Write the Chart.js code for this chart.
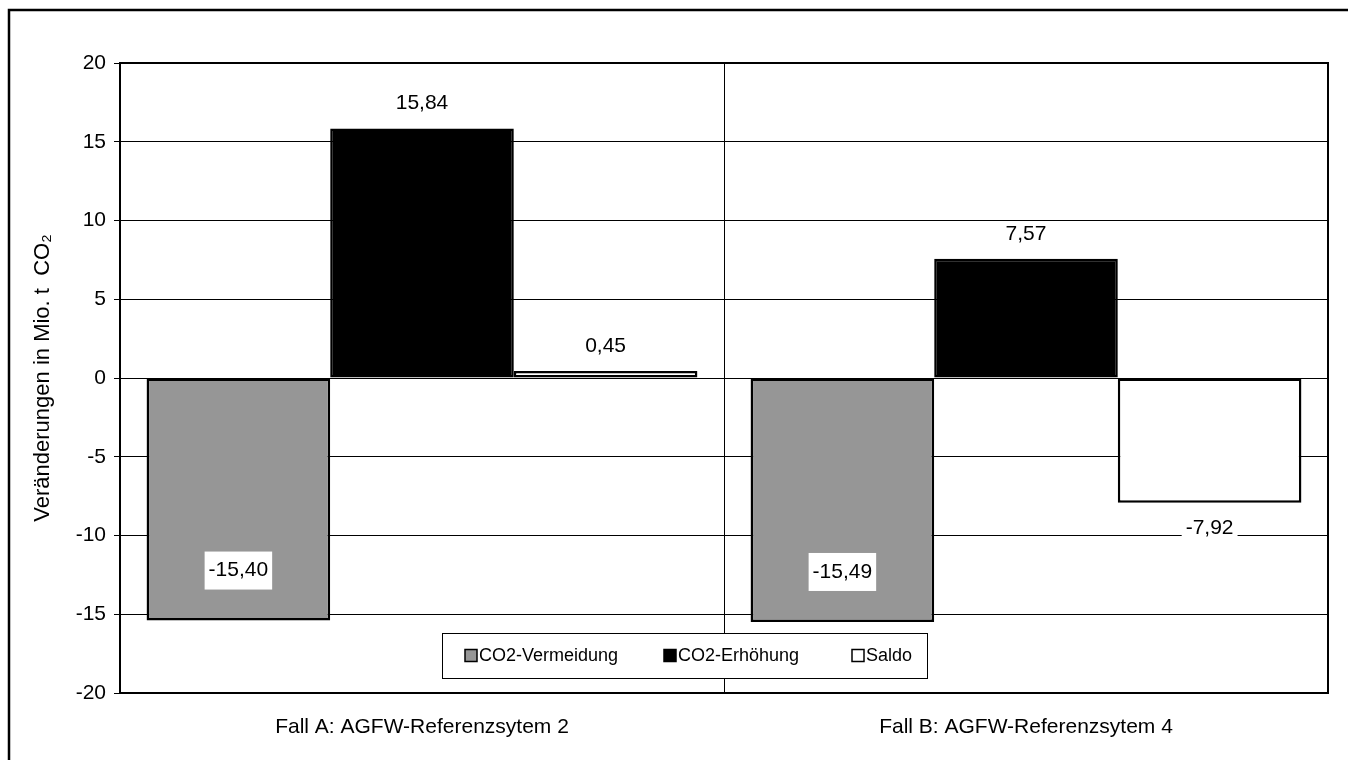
<!DOCTYPE html>
<html>
<head>
<meta charset="utf-8">
<script src="https://cdn.jsdelivr.net/npm/chart.js@4.4.1/dist/chart.umd.min.js"></script>
<style>
  html, body { margin: 0; padding: 0; background: #fff; }
  #wrap { width: 1348px; height: 760px; position: relative; }
</style>
</head>
<body>
<div id="wrap"><canvas id="co2Chart"></canvas></div>
<script>
// data
const categories = ['Fall A: AGFW-Referenzsytem 2', 'Fall B: AGFW-Referenzsytem 4'];
const seriesNames = ['CO2-Vermeidung', 'CO2-Erhöhung', 'Saldo'];
const vermeidung = [-15.40, -15.49];
const erhoehung = [15.84, 7.57];
const saldo = [0.45, -7.92];
const yTicks = [-20, -15, -10, -5, 0, 5, 10, 15, 20];
const yTitle = 'Veränderungen in Mio. t  CO₂';

const FONT = "'Liberation Sans', Arial, sans-serif";
const FS = 21;        // ticks, category labels, value labels
const LEGEND_FS = 18;
const fillColors = ['#969696', '#000000', '#ffffff'];

function fmt(v) {
    return v.toFixed(2).replace('.', ',');
}

// outer frame of the picture
const framePlugin = {
    id: 'frame',
    beforeDraw(chart) {
        const ctx = chart.ctx;
        ctx.save();
        ctx.strokeStyle = '#000';
        ctx.lineWidth = 2.5;
        ctx.beginPath();
        ctx.moveTo(9, 770);
        ctx.lineTo(9, 10);
        ctx.lineTo(1360, 10);
        ctx.stroke();
        ctx.restore();
    }
};

// value labels with white boxes
const labelPlugin = {
    id: 'valueLabels',
    afterDatasetsDraw(chart) {
        const ctx = chart.ctx;
        const yScale = chart.scales.y;
        ctx.save();
        ctx.font = FS + 'px ' + FONT;
        ctx.textAlign = 'center';
        ctx.textBaseline = 'middle';
        chart.data.datasets.forEach((ds, i) => {
            chart.getDatasetMeta(i).data.forEach((bar, j) => {
                const v = ds.data[j];
                const text = fmt(v);
                let y;
                if (v >= 0) {
                    y = bar.y - 25;
                } else if (yScale.getValueForPixel(bar.y + 26) < -14) {
                    y = bar.y - 50; // no room below, put it inside
                } else {
                    y = bar.y + 25;
                }
                const w = ctx.measureText(text).width + 8;
                const h = v < 0 ? 38 : 24;
                ctx.fillStyle = '#fff';
                ctx.fillRect(bar.x - w / 2, y - h / 2, w, h);
                ctx.fillStyle = '#000';
                ctx.fillText(text, bar.x, y);
            });
        });
        ctx.restore();
    }
};

// plot border + legend box inside the plot
const boxPlugin = {
    id: 'plotBox',
    afterDraw(chart) {
        const ctx = chart.ctx;
        const a = chart.chartArea;
        ctx.save();
        ctx.strokeStyle = '#000';
        ctx.lineWidth = 2;
        ctx.strokeRect(a.left, a.top, a.right - a.left, a.bottom - a.top);

        // legend
        const lx = 442, ly = 633, lw = 485, lh = 45;
        ctx.fillStyle = '#fff';
        ctx.fillRect(lx, ly, lw, lh);
        ctx.lineWidth = 1;
        ctx.strokeRect(lx + 0.5, ly + 0.5, lw, lh);
        const itemX = [465, 664, 852];
        ctx.font = LEGEND_FS + 'px ' + FONT;
        ctx.textBaseline = 'middle';
        ctx.textAlign = 'left';
        seriesNames.forEach((name, i) => {
            const sx = itemX[i], sy = ly + lh / 2 - 6;
            ctx.fillStyle = fillColors[i];
            ctx.fillRect(sx, sy, 12, 12);
            ctx.lineWidth = 1.5;
            ctx.strokeStyle = '#000';
            ctx.strokeRect(sx, sy, 12, 12);
            ctx.fillStyle = '#000';
            ctx.fillText(name, sx + 14, ly + lh / 2 + 1);
        });
        ctx.restore();
    }
};

const seriesData = [vermeidung, erhoehung, saldo];

new Chart(document.getElementById('co2Chart'), {
    type: 'bar',
    data: {
        labels: categories,
        datasets: seriesNames.map((name, i) => ({
            label: name,
            data: seriesData[i],
            backgroundColor: fillColors[i],
            borderColor: '#000',
            borderWidth: 2.5,
            borderSkipped: false,
            categoryPercentage: 0.912,
            barPercentage: 1
        }))
    },
    options: {
        responsive: true,
        maintainAspectRatio: false,
        animation: false,
        layout: { padding: { top: 63, right: 20, left: 0, bottom: 0 } },
        plugins: {
            legend: { display: false },
            tooltip: { enabled: false }
        },
        scales: {
            x: {
                offset: true,
                grid: { color: '#000', lineWidth: 1, drawTicks: false, offset: true },
                border: { display: false },
                ticks: { color: '#000', padding: 22, font: { family: FONT, size: FS } },
                afterFit(scale) { scale.height = 67; }
            },
            y: {
                min: -20,
                max: 20,
                afterBuildTicks(scale) {
                    scale.ticks = yTicks.map(v => ({ value: v }));
                },
                grid: { color: '#000', lineWidth: 1, tickLength: 6, tickColor: '#000' },
                border: { display: false },
                ticks: { color: '#000', padding: 8, font: { family: FONT, size: FS } },
                title: {
                    display: true,
                    text: yTitle,
                    color: '#000',
                    font: { family: FONT, size: 22 },
                    padding: { top: 30, bottom: 0 }
                },
                afterFit(scale) { scale.width = 120; }
            }
        }
    },
    plugins: [framePlugin, labelPlugin, boxPlugin]
});
</script>
</body>
</html>
